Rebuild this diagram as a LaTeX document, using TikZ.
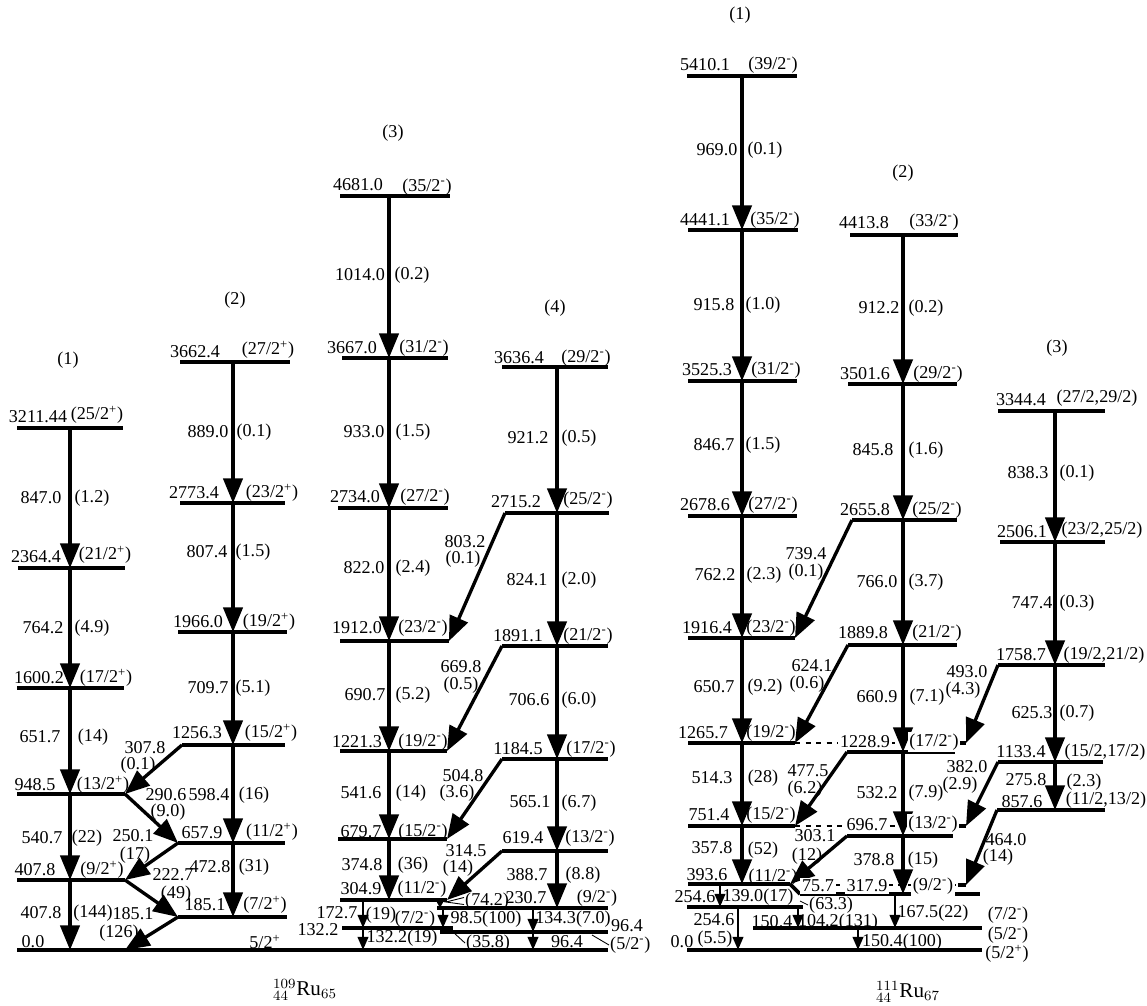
\documentclass[tikz,border=0pt]{standalone}
\usepackage{fontspec}
\setmainfont{Liberation Serif}
\usetikzlibrary{arrows.meta}

\newcommand{\spinp}[1]{(#1\textsuperscript{+})}
\newcommand{\spinm}[1]{(#1\textsuperscript{-})}

\tikzset{
  lev/.style={line width=2.2pt},
  dlev/.style={line width=1.3pt, dash pattern=on 3pt off 3pt},
  tr/.style={line width=1.9pt, -{Triangle[width=11pt,length=14pt]}},
  trs/.style={line width=1.4pt, -{Triangle[width=6pt,length=7.5pt]}},
  trt/.style={line width=1pt, -{Triangle[width=4pt,length=4pt]}},
  leader/.style={line width=0.5pt},
  lab/.style={inner sep=0.5pt},
  onl/.style={inner sep=1pt, fill=white},
}

\begin{document}
\begin{tikzpicture}[x=0.02cm, y=-0.02cm, font=\fontsize{10.3}{11.5}\selectfont]
  \useasboundingbox (0,0) rectangle (1147,1006);

  % levels: name / left x / right x / y
  \foreach \n/\xa/\xb/\y in {
    a3211/17/123/428, a2364/18/125/568, a1600/17/124/688, a948/17/125/794, a407/17/125/880,
    b3662/180/290/362, b2773/180/285/503, b1966/178/287/632, b1256/182/285/745,
    b657/178/285/843, b185/178/287/917,
    c4681/340/450/196, c3667/342/448/358, c2734/338/448/508, c1912/340/449/641,
    c1221/340/447/751, c679/338/447/839, c304/340/447/900, c132/342/453/928,
    d3636/502/608/367, d2715/505/609/513, d1891/502/608/646, d1184/502/608/759,
    d619/502/608/851, d230/437/608/908, d96/440/608/932,
    g0/17/608/950,
    i5410/687/797/76, i4441/688/798/230, i3525/688/797/381, i2678/688/797/516,
    i1916/688/795/638, i1265/688/795/743, i751/688/795/826, i393/688/790/884,
    i254/687/803/907,
    j4413/850/958/235, j3501/848/957/384, j2655/852/957/520, j1889/848/957/645,
    j1228/847/955/752, j696/847/953/836, j317/800/980/894, j150/753/982/928,
    k3344/998/1105/411, k2506/1000/1105/542, k1758/998/1105/665,
    k1133/998/1103/762, k857/997/1105/810,
    s1228/958/966/743, s696/958/966/826, s317/958/966/885,
    h0/687/982/950}
  {
    \coordinate (l\n) at (\xa,\y);
    \coordinate (r\n) at (\xb,\y);
    \draw[lev] (l\n) -- (r\n);
  }

  % columns of the vertical transitions
  \coordinate (ca) at (70,0);
  \coordinate (cb) at (233,0);
  \coordinate (cc) at (389,0);
  \coordinate (cd) at (557,0);
  \coordinate (ce) at (363,0);
  \coordinate (cf) at (443,0);
  \coordinate (cg) at (533,0);
  \coordinate (ch) at (440,0);
  \coordinate (ri) at (742,0);
  \coordinate (rj) at (903,0);
  \coordinate (rk) at (1055,0);
  \coordinate (rl) at (720,0);
  \coordinate (rm) at (738,0);
  \coordinate (rn) at (798,0);
  \coordinate (ro) at (858,0);
  \coordinate (rp) at (895,0);
  \coordinate (q185) at (ra407 |- lg0);
  \coordinate (q317) at (803,885);

  % dashed continuations
  \draw[dlev] (ri1265) -- (ls1228);
  \draw[dlev] (ri751) -- (ls696);
  \draw[dlev] (q317) -- (ls317);
  \draw[lev] (ri393) -- (lj317);

  % vertical transitions
  \foreach \c/\u/\d in {
    ca/a3211/a2364, ca/a2364/a1600, ca/a1600/a948, ca/a948/a407, ca/a407/g0,
    cb/b3662/b2773, cb/b2773/b1966, cb/b1966/b1256, cb/b1256/b657, cb/b657/b185,
    cc/c4681/c3667, cc/c3667/c2734, cc/c2734/c1912, cc/c1912/c1221, cc/c1221/c679, cc/c679/c304,
    cd/d3636/d2715, cd/d2715/d1891, cd/d1891/d1184, cd/d1184/d619, cd/d619/d230,
    ri/i5410/i4441, ri/i4441/i3525, ri/i3525/i2678, ri/i2678/i1916, ri/i1916/i1265,
    ri/i1265/i751, ri/i751/i393,
    rj/j4413/j3501, rj/j3501/j2655, rj/j2655/j1889, rj/j1889/j1228, rj/j1228/j696, rj/j696/j317,
    rk/k3344/k2506, rk/k2506/k1758, rk/k1758/k1133, rk/k1133/k857}
    \draw[tr] (\c |- l\u) -- (\c |- l\d);

  \foreach \c/\u/\d in {
    ce/c304/c132, ce/c132/g0, cf/d230/c132, cg/d230/d96, cg/d96/g0,
    rl/i393/i254, rm/i254/h0, rn/i254/j150, ro/j150/h0, rp/j317/j150}
    \draw[trs] (\c |- l\u) -- (\c |- l\d);
  \draw[trt] (ch |- lc304) -- (ch |- ld230);

  % cross-band transitions
  \foreach \u/\d in {
    lb1256/ra948, ra948/lb657, lb657/ra407, ra407/lb185, lb185/q185,
    ld2715/rc1912, ld1891/rc1221, ld1184/rc679, ld619/rc304,
    lj2655/ri1916, lj1889/ri1265, lj1228/ri751, lj696/ri393,
    lk1758/rs1228, lk1133/rs696, lk857/rs317}
    \draw[tr] (\u) -- (\d);

  % labels
  \foreach \x/\y/\t [count=\k] in {
    68/360/(1), 38/417/3211.44, 97/415/{\spinp{25/2}}, 41/498/847.0, 92/498/(1.2),
    36/557/2364.4, 105/555/{\spinp{21/2}}, 43/628/764.2, 92/628/(4.9),
    39/678/1600.2, 106/678/{\spinp{17/2}}, 40/737/651.7, 93/737/(14),
    35/785/948.5, 103/785/{\spinp{13/2}}, 42/838/540.7, 87/838/(22),
    35/870/407.8, 102/870/{\spinp{9/2}}, 41/913/407.8, 93/913/(144),
    33/942/0.0, 265/942/{5/2\textsuperscript{+}},
    235/300/(2), 195/352/3662.4, 268/350/{\spinp{27/2}}, 208/432/889.0, 254/432/(0.1),
    194/493/2773.4, 272/493/{\spinp{23/2}}, 207/552/807.4, 253/552/(1.5),
    198/622/1966.0, 269/622/{\spinp{19/2}}, 208/688/709.7, 253/688/(5.1),
    197/733/1256.3, 271/733/{\spinp{15/2}}, 145/748/307.8, 138/765/(0.1),
    166/795/290.6, 168/812/(9.0), 209/795/598.4, 254/795/(16),
    133/836/250.1, 135/855/(17), 202/833/657.9, 272/832/{\spinp{11/2}},
    173/875/222.7, 176/894/(49), 210/867/472.8, 254/867/(31),
    205/905/185.1, 265/905/{\spinp{7/2}}, 133/914/185.1, 119/933/(126),
    393/133/(3), 358/185/4681.0, 427/187/{\spinm{35/2}}, 360/275/1014.0, 412/275/(0.2),
    352/348/3667.0, 424/348/{\spinm{31/2}}, 364/432/933.0, 413/432/(1.5),
    355/497/2734.0, 425/497/{\spinm{27/2}}, 364/568/822.0, 413/568/(2.4),
    357/628/1912.0, 423/628/{\spinm{23/2}}, 365/695/690.7, 413/695/(5.2),
    357/742/1221.3, 423/742/{\spinm{19/2}}, 361/793/541.6, 411/793/(14),
    361/832/679.7, 423/832/{\spinm{15/2}}, 362/865/374.8, 413/865/(36),
    361/889/304.9, 422/889/{\spinm{11/2}},
    555/308/(4), 519/358/3636.4, 586/358/{\spinm{29/2}}, 528/438/921.2, 579/438/(0.5),
    516/502/2715.2, 588/500/{\spinm{25/2}}, 465/542/803.2, 463/559/(0.1),
    527/580/824.1, 579/580/(2.0), 518/636/1891.1, 588/636/{\spinm{21/2}},
    461/667/669.8, 461/685/(0.5), 529/700/706.6, 579/700/(6.0),
    518/749/1184.5, 591/749/{\spinm{17/2}}, 463/776/504.8, 457/793/(3.6),
    530/802/565.1, 579/803/(6.7), 523/838/619.4, 590/838/{\spinm{13/2}},
    466/851/314.5, 458/868/(14), 527/875/388.7, 583/875/(8.8),
    526/898/230.7, 597/898/{\spinm{9/2}},
    337/913/172.7, 381/915/(19), 318/930/132.2, 415/919/{\spinm{7/2}},
    486/919/98.5(100), 573/919/134.3(7.0), 402/938/132.2(19), 567/942/96.4, 627/926/96.4,
    740/15/(1), 705/65/5410.1, 773/65/{\spinm{39/2}}, 717/150/969.0, 765/150/(0.1),
    705/220/4441.1, 775/220/{\spinm{35/2}}, 714/305/915.8, 763/305/(1.0),
    707/370/3525.3, 776/370/{\spinm{31/2}}, 714/445/846.7, 763/445/(1.5),
    705/505/2678.6, 773/505/{\spinm{27/2}}, 715/575/762.2, 764/575/(2.3),
    707/628/1916.4, 771/628/{\spinm{23/2}}, 714/687/650.7, 765/687/(9.2),
    703/733/1265.7, 771/733/{\spinm{19/2}}, 712/778/514.3, 763/778/(28),
    709/815/751.4, 771/815/{\spinm{15/2}}, 712/848/357.8, 763/850/(52),
    707/875/393.6, 773/877/{\spinm{11/2}},
    903/173/(2), 864/223/4413.8, 934/222/{\spinm{33/2}}, 879/308/912.2, 926/308/(0.2),
    865/374/3501.6, 938/374/{\spinm{29/2}}, 873/450/845.8, 926/450/(1.6),
    865/510/2655.8, 937/510/{\spinm{25/2}}, 806/554/739.4, 806/572/(0.1),
    877/582/766.0, 926/582/(3.7), 863/633/1889.8, 937/633/{\spinm{21/2}},
    812/666/624.1, 807/684/(0.6), 877/697/660.9, 927/697/(7.1),
    808/771/477.5, 805/789/(6.2), 877/793/532.2, 926/793/(7.9),
    815/836/303.1, 807/856/(12), 874/860/378.8, 923/860/(15),
    1057/348/(3), 1021/400/3344.4, 1097/398/{(27/2,29/2)}, 1028/473/838.3, 1077/473/(0.1),
    1022/532/2506.1, 1102/530/{(23/2,25/2)}, 1032/603/747.4, 1077/603/(0.3),
    1021/655/1758.7, 1104/655/{(19/2,21/2)}, 967/672/493.0, 963/690/(4.3),
    1032/713/625.3, 1077/713/(0.7), 1021/752/1133.4, 1105/752/{(15/2,17/2)},
    967/767/382.0, 960/785/(2.9), 1026/780/275.8, 1084/782/(2.3),
    1022/802/857.6, 1106/800/{(11/2,13/2)}, 1006/840/464.0, 998/857/(14),
    695/897/254.6, 758/897/139.0(17), 714/920/254.6, 715/939/(5.5),
    772/922/150.4, 838/922/104.2(131), 933/913/167.5(22),
    1008/915/{\spinm{7/2}}, 1008/935/{\spinm{5/2}}, 1007/954/{\spinp{5/2}},
    902/942/150.4(100), 682/942/0.0}
    \node[lab] (t\k) at (\x,\y) {\t};

  % texts sitting on the dashed lines
  \foreach \x/\y/\t [count=\k] in {
    865/742/1228.9, 934/742/{\spinm{17/2}}, 867/825/696.7, 933/824/{\spinm{13/2}},
    818/886/75.7, 867/886/317.9, 933/886/{\spinm{9/2}}}
    \node[onl] (o\k) at (\x,\y) {\t};

  % labels with leaders
  \node[lab, anchor=west] (n742) at (464,901) {(74.2)};
  \node[lab, anchor=west] (n358) at (465,943) {(35.8)};
  \node[lab, anchor=west] (n52) at (609,945) {\spinm{5/2}};
  \node[lab, anchor=west] (n633) at (808,905) {(63.3)};
  \coordinate (p742) at (446,902);
  \draw[leader] ([yshift=2pt]n742.west) -- (p742) -- ([yshift=-2pt]n742.west);
  \draw[leader] (rc132 |- ld96) -- (n358.west);
  \draw[leader] (592,935) -- (n52.west);
  \draw[leader] (800,901) -- (n633.west);

  % nuclei
  \node (ru109) at (305,990) {\fontsize{12}{14}\selectfont ${}^{109}_{44}$Ru$_{65}$};
  \node (ru111) at (908,992) {\fontsize{12}{14}\selectfont ${}^{111}_{44}$Ru$_{67}$};
\end{tikzpicture}
\end{document}
